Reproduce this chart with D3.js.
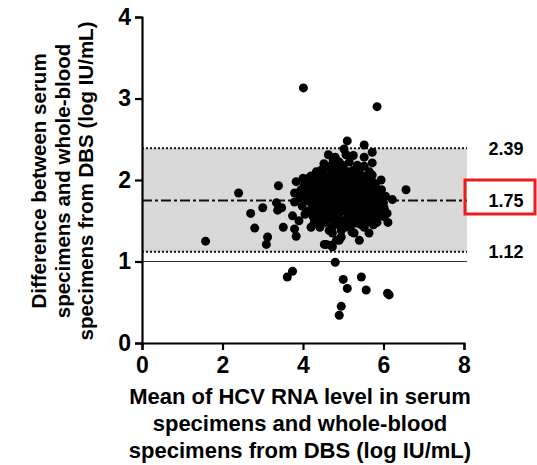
<!DOCTYPE html>
<html>
<head>
<meta charset="utf-8">
<script src="https://cdn.jsdelivr.net/npm/d3@7"></script>
<style>
  body { margin: 0; background: #fff; }
  text { font-family: "Liberation Sans", Arial, sans-serif; font-weight: bold; }
</style>
</head>
<body>
<script>
const width = 537
const height = 465

// ticks
const xTicks = [0, 2, 4, 6, 8]
const yTicks = [0, 1, 2, 3, 4]

// Bland-Altman lines
const bias = 1.75
const upperLoA = 2.39
const lowerLoA = 1.12
const zeroLine = 1
const limitLabels = ['2.39', '1.75', '1.12']

// titulos
const xTitle = ['Mean of HCV RNA level in serum', 'specimens and whole-blood', 'specimens from DBS (log IU/mL)']
const yTitle = ['Difference between serum', 'specimens and whole-blood', 'specimens from DBS (log IU/mL)']

// puntos: [media, diferencia]
const points = [
  [1.58,1.25],[2.4,1.84],[2.7,1.59],[3.0,1.66],[2.8,1.41],[3.12,1.30],[3.09,1.21],[3.39,1.93],
  [3.34,1.72],[3.37,1.63],[3.47,1.66],[3.51,1.42],[3.74,1.56],[3.79,1.40],[3.83,1.31],[3.79,1.84],
  [3.79,1.73],[3.83,1.98],[3.74,0.88],[3.61,0.81],[4.01,3.13],[5.84,2.90],[4.8,0.99],[5.0,0.78],
  [5.1,0.67],[5.45,0.81],[5.57,0.65],[6.14,0.59],[6.1,0.61],[4.95,0.45],[4.9,0.34],[6.56,1.88],
  [6.22,1.76],[5.94,1.82],[6.01,1.55],[6.09,1.59],[6.11,1.48],[5.84,1.48],[5.82,1.53],[5.64,1.35],
  [5.59,1.48],[5.52,1.42],[5.4,1.26],[5.35,1.47],[5.27,1.35],[5.22,1.36],[4.95,1.30],[4.9,1.26],
  [4.83,1.26],[4.73,1.18],[4.58,1.21],[4.53,1.21],[4.7,1.20],[4.73,1.35],[4.2,1.42],[4.28,1.48],
  [4.23,1.66],[4.48,1.57],[4.03,1.94],[4.13,2.02],[4.36,2.04],[4.58,2.16],[4.7,2.18],[4.63,2.31],
  [4.9,2.12],[4.98,2.18],[5.07,2.31],[5.1,2.48],[5.52,2.43],[5.52,2.28],[5.72,2.34],[5.72,2.21],
  [5.52,2.17],[5.72,2.06],[5.94,2.0],
  [3.92,1.78],[3.95,1.88],[3.98,1.68],[4.0,2.02],[4.05,1.58],[4.02,1.82],[3.9,1.5],
  [4.1,1.75],[4.1,1.88],[4.15,1.62],[4.12,1.95],
  [4.2,1.8],[4.22,1.7],[4.25,1.9],[4.2,2.05],[4.25,1.55],
  [4.3,1.85],[4.32,1.72],[4.3,1.98],[4.35,1.6],[4.33,2.1],
  [4.4,1.78],[4.42,1.9],[4.38,1.68],[4.45,2.0],[4.4,1.5],[4.45,2.12],[4.42,1.42],
  [4.5,1.82],[4.52,1.7],[4.5,1.95],[4.55,1.62],[4.5,2.08],[4.55,1.48],[4.52,2.2],[4.58,1.88],
  [4.6,1.75],[4.62,1.85],[4.6,1.98],[4.65,1.65],[4.62,2.05],[4.6,1.52],[4.65,1.38],[4.68,1.92],
  [4.7,1.8],[4.72,1.7],[4.7,1.9],[4.75,2.0],[4.72,2.1],[4.7,1.6],[4.75,1.5],[4.78,1.78],[4.75,2.25],[4.72,1.42],
  [4.8,1.85],[4.82,1.75],[4.8,1.65],[4.85,1.95],[4.8,2.05],[4.85,2.15],[4.82,1.55],[4.88,1.45],[4.85,1.7],[4.8,2.28],[4.88,1.88],
  [4.9,1.8],[4.92,1.7],[4.9,1.92],[4.95,2.02],[4.92,1.6],[4.98,1.5],[4.95,1.85],[4.9,2.22],[4.95,1.38],[4.98,1.75],
  [5.0,1.82],[5.02,1.72],[5.0,1.95],[5.05,2.05],[5.02,1.62],[5.08,1.52],[5.05,1.88],[5.0,2.15],[5.08,1.78],[5.05,1.42],[5.02,2.38],
  [5.1,1.8],[5.12,1.68],[5.1,1.92],[5.15,2.0],[5.12,2.1],[5.15,1.58],[5.18,1.85],[5.1,1.48],[5.15,2.22],[5.18,1.72],
  [5.2,1.78],[5.22,1.9],[5.2,1.65],[5.25,2.02],[5.22,1.55],[5.28,1.82],[5.25,2.12],[5.2,1.45],[5.28,1.7],[5.25,2.3],
  [5.3,1.85],[5.32,1.75],[5.3,1.95],[5.35,1.62],[5.32,2.05],[5.38,1.88],[5.35,2.18],[5.3,1.52],[5.38,1.72],
  [5.4,1.8],[5.42,1.68],[5.4,1.92],[5.45,2.02],[5.42,1.58],[5.48,1.85],[5.45,1.45],[5.4,2.12],[5.48,1.75],
  [5.5,1.82],[5.52,1.7],[5.5,1.95],[5.55,2.05],[5.55,1.6],[5.58,1.88],[5.5,1.52],[5.58,1.78],
  [5.6,1.75],[5.62,1.85],[5.65,1.95],[5.62,1.65],[5.68,1.55],[5.65,2.1],[5.6,2.0],
  [5.7,1.8],[5.72,1.7],[5.75,1.9],[5.72,1.98],[5.78,1.62],[5.75,1.45],
  [5.8,1.75],[5.82,1.85],[5.85,1.68],[5.8,1.95],[5.88,1.58],
  [5.9,1.78],[5.92,1.7],[5.95,1.88],[5.9,1.62],
  [6.0,1.72],[6.05,1.8],[6.02,1.65]
]

const x = d3.scaleLinear().domain([0, 8]).range([142, 464])
const y = d3.scaleLinear().domain([0, 4]).range([343, 17])
const bandEnd = 467

const svg = d3.select('body').append('svg').attr('width', width).attr('height', height)

// banda gris
svg.append('rect')
  .attr('x', x(0)).attr('y', y(upperLoA))
  .attr('width', bandEnd - x(0)).attr('height', y(lowerLoA) - y(upperLoA))
  .attr('fill', '#d9d9d9')

const hline = (v, dash, w, col) => svg.append('line')
  .attr('x1', x(0)).attr('x2', bandEnd)
  .attr('y1', y(v)).attr('y2', y(v))
  .attr('stroke', col).attr('stroke-width', w)
  .attr('stroke-dasharray', dash)

hline(zeroLine, null, 1.2, '#333')
hline(upperLoA, '2,2', 2, '#111')
hline(lowerLoA, '2,2', 2, '#111')
hline(bias, '10,3,3,3', 2, '#111')

// puntos
svg.append('g').selectAll('circle')
  .data(points)
  .join('circle')
  .attr('cx', d => x(d[0]))
  .attr('cy', d => y(d[1]))
  .attr('r', 4.5)
  .attr('fill', '#000')

// ejes
const xAxis = svg.append('g')
  .attr('transform', `translate(0,${y(0)})`)
  .call(d3.axisBottom(x).tickValues(xTicks).tickSize(7).tickPadding(7).tickFormat(d3.format('d')))
const yAxis = svg.append('g')
  .attr('transform', `translate(${x(0)},0)`)
  .call(d3.axisLeft(y).tickValues(yTicks).tickSize(7).tickPadding(4).tickFormat(d3.format('d')))

;[xAxis, yAxis].forEach(a => {
  a.select('.domain').attr('stroke', '#000').attr('stroke-width', 2.2)
  a.selectAll('.tick line').attr('stroke', '#000').attr('stroke-width', 2.2)
  a.selectAll('.tick text').attr('fill', '#000').style('font-size', '23px').style('font-family', '"Liberation Sans", Arial, sans-serif').style('font-weight', 'bold')
})

// etiquetas de la derecha
const labelVals = [upperLoA, bias, lowerLoA]
svg.selectAll('text.lim')
  .data(labelVals)
  .join('text')
  .attr('class', 'lim')
  .attr('x', 506)
  .attr('y', d => y(d))
  .attr('dy', '0.35em')
  .attr('text-anchor', 'middle')
  .style('font-size', '18px')
  .text((d, i) => limitLabels[i])

svg.append('rect')
  .attr('x', 465).attr('y', 180)
  .attr('width', 70).attr('height', 34)
  .attr('fill', 'none')
  .attr('stroke', '#ee1c1c').attr('stroke-width', 3)

// titulo eje x
svg.selectAll('text.xt')
  .data(xTitle)
  .join('text')
  .attr('class', 'xt')
  .attr('x', 300)
  .attr('y', (d, i) => 404 + i * 27)
  .attr('text-anchor', 'middle')
  .style('font-size', '22px')
  .text(d => d)

// titulo eje y
svg.selectAll('text.yt')
  .data(yTitle)
  .join('text')
  .attr('class', 'yt')
  .attr('transform', (d, i) => `translate(${46 + i * 23.5},181) rotate(-90)`)
  .attr('text-anchor', 'middle')
  .style('font-size', '20.5px')
  .text(d => d)
</script>
</body>
</html>
